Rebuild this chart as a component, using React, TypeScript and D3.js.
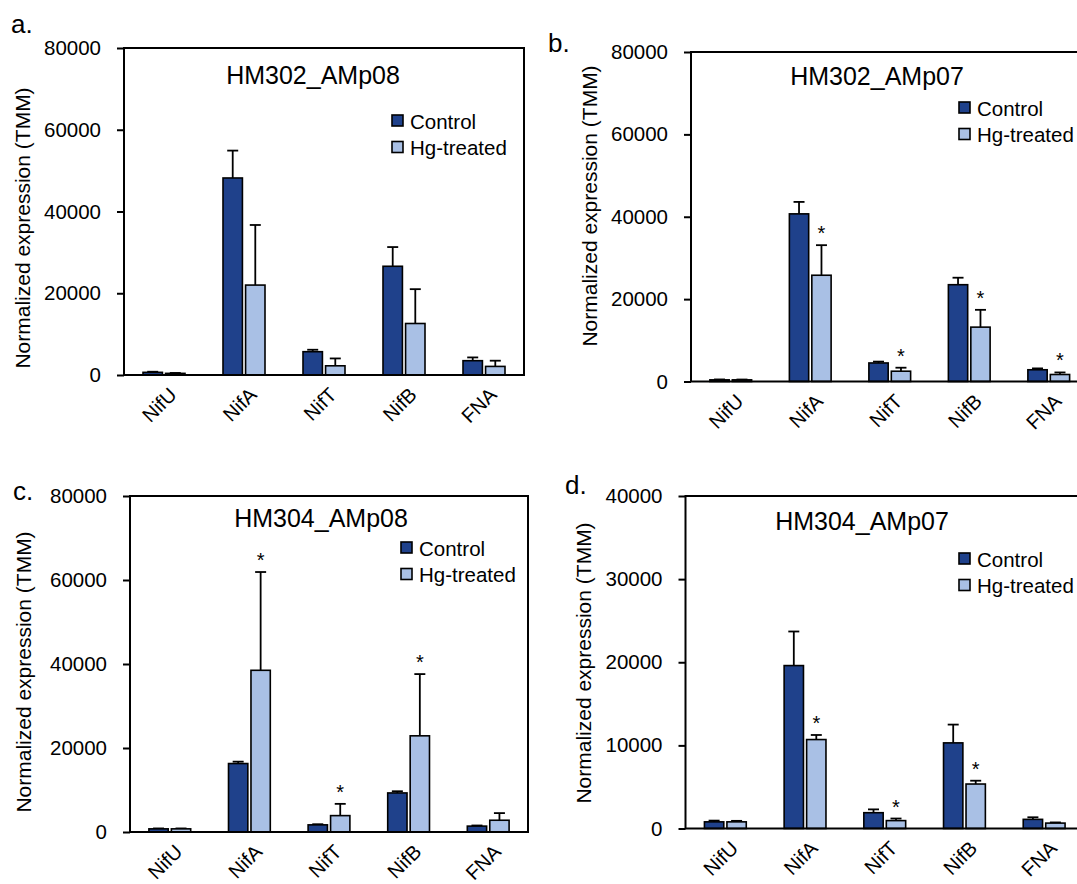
import React, { useEffect, useRef } from 'react';
import * as d3 from 'd3';

const genes = ['NifU', 'NifA', 'NifT', 'NifB', 'FNA'];
const groups = ['Control', 'Hg-treated'];

// a. HM302_AMp08
const aControl = [650, 48200, 5700, 26600, 3500];
const aControlErr = [150, 6700, 480, 4700, 800];
const aHg = [400, 22000, 2250, 12600, 2100];
const aHgErr = [100, 14700, 1800, 8400, 1400];
const aStars = [false, false, false, false, false];

// b. HM302_AMp07
const bControl = [400, 40700, 4500, 23500, 2850];
const bControlErr = [100, 2900, 330, 1700, 330];
const bHg = [400, 25800, 2500, 13200, 1700];
const bHgErr = [80, 7300, 850, 4200, 500];
const bStars = [false, true, true, true, true];

// c. HM304_AMp08
const cControl = [750, 16300, 1700, 9300, 1400];
const cControlErr = [100, 450, 150, 400, 150];
const cHg = [750, 38500, 3900, 22900, 2800];
const cHgErr = [100, 23400, 2800, 14700, 1700];
const cStars = [false, true, true, true, false];

// d. HM304_AMp07
const dControl = [800, 19600, 1900, 10300, 1100];
const dControlErr = [150, 4100, 400, 2200, 250];
const dHg = [800, 10700, 950, 5350, 650];
const dHgErr = [120, 550, 250, 400, 80];
const dStars = [false, true, true, true, false];

const ticks80 = [0, 20000, 40000, 60000, 80000];
const ticks40 = [0, 10000, 20000, 30000, 40000];

const panels = [
  { letter: 'a.', title: 'HM302_AMp08', ymax: 80000, ticks: ticks80, control: aControl, controlErr: aControlErr, hg: aHg, hgErr: aHgErr, stars: aStars },
  { letter: 'b.', title: 'HM302_AMp07', ymax: 80000, ticks: ticks80, control: bControl, controlErr: bControlErr, hg: bHg, hgErr: bHgErr, stars: bStars },
  { letter: 'c.', title: 'HM304_AMp08', ymax: 80000, ticks: ticks80, control: cControl, controlErr: cControlErr, hg: cHg, hgErr: cHgErr, stars: cStars },
  { letter: 'd.', title: 'HM304_AMp07', ymax: 40000, ticks: ticks40, control: dControl, controlErr: dControlErr, hg: dHg, hgErr: dHgErr, stars: dStars },
];

// where each panel sits on the page
const layouts = [
  { left: 124, step: 80, top: 48, bottom: 375, letterX: 11, letterY: 33, titleX: 313, titleY: 84, legX: 392, legY: 121, ylabX: 30, ylabY: 228 },
  { left: 691, step: 79.5, top: 52, bottom: 381.5, letterX: 548, letterY: 52, titleX: 877, titleY: 85, legX: 959, legY: 108, ylabX: 597, ylabY: 206 },
  { left: 130, step: 79.6, top: 496, bottom: 832, letterX: 13, letterY: 500, titleX: 321, titleY: 527, legX: 401, legY: 548, ylabX: 31, ylabY: 672 },
  { left: 685.5, step: 79.7, top: 496, bottom: 828.5, letterX: 565, letterY: 494, titleX: 862, titleY: 530, legX: 959, legY: 559, ylabX: 591, ylabY: 663 },
];

const colors = { Control: '#1f418b', 'Hg-treated': '#a9c0e5' };
const font = '"Liberation Sans", Arial, Helvetica, sans-serif';

function drawPanel(svg, p, L) {
  const g = svg.append('g').style('font-family', font);
  const right = L.left + L.step * 5;

  const x0 = d3.scaleBand().domain(genes).range([L.left, right]).paddingInner(0.475).paddingOuter(0.2375);
  const x1 = d3.scaleBand().domain(groups).range([0, x0.bandwidth()]).paddingInner(0.14);
  const y = d3.scaleLinear().domain([0, p.ymax]).range([L.bottom, L.top]);

  const rows = genes.flatMap((gene, i) => [
    { gene, group: 'Control', v: p.control[i], e: p.controlErr[i], star: false },
    { gene, group: 'Hg-treated', v: p.hg[i], e: p.hgErr[i], star: p.stars[i] },
  ]);

  // y axis ticks + labels
  const axis = g.append('g')
    .attr('transform', `translate(${L.left},0)`)
    .call(d3.axisLeft(y).tickValues(p.ticks).tickSize(7).tickPadding(16).tickFormat(d3.format('d')));
  axis.select('.domain').remove();
  axis.selectAll('line').attr('stroke', '#000').attr('stroke-width', 2);
  axis.selectAll('text').attr('font-size', 20.5).attr('fill', '#000').style('font-family', font);

  // error bars (upper only)
  const eb = g.selectAll('.eb').data(rows).enter().append('g').attr('class', 'eb');
  eb.append('line')
    .attr('x1', (d) => x0(d.gene) + x1(d.group) + x1.bandwidth() / 2)
    .attr('x2', (d) => x0(d.gene) + x1(d.group) + x1.bandwidth() / 2)
    .attr('y1', (d) => y(d.v))
    .attr('y2', (d) => y(d.v + d.e))
    .attr('stroke', '#000').attr('stroke-width', 1.8);
  eb.append('line')
    .attr('x1', (d) => x0(d.gene) + x1(d.group) + x1.bandwidth() / 2 - 5.5)
    .attr('x2', (d) => x0(d.gene) + x1(d.group) + x1.bandwidth() / 2 + 5.5)
    .attr('y1', (d) => y(d.v + d.e))
    .attr('y2', (d) => y(d.v + d.e))
    .attr('stroke', '#000').attr('stroke-width', 1.8);

  // bars
  g.selectAll('.bar').data(rows).enter().append('rect')
    .attr('class', 'bar')
    .attr('x', (d) => x0(d.gene) + x1(d.group))
    .attr('y', (d) => y(d.v))
    .attr('width', x1.bandwidth())
    .attr('height', (d) => y(0) - y(d.v))
    .attr('fill', (d) => colors[d.group])
    .attr('stroke', '#000').attr('stroke-width', 1.6);

  // significance stars
  g.selectAll('.star').data(rows.filter((d) => d.star)).enter().append('text')
    .attr('x', (d) => x0(d.gene) + x1(d.group) + x1.bandwidth() / 2)
    .attr('y', (d) => y(d.v + d.e) - 5)
    .attr('text-anchor', 'middle')
    .attr('font-size', 20)
    .text('*');

  // frame
  g.append('rect')
    .attr('x', L.left).attr('y', L.top)
    .attr('width', right - L.left).attr('height', L.bottom - L.top)
    .attr('fill', 'none').attr('stroke', '#000').attr('stroke-width', 2);

  // category labels
  g.selectAll('.cat').data(genes).enter().append('text')
    .attr('transform', (d) => `translate(${x0(d) + x0.bandwidth() / 2 + 14},${L.bottom + 21}) rotate(-45)`)
    .attr('text-anchor', 'end')
    .attr('font-size', 20)
    .text((d) => d);

  g.append('text').attr('x', L.titleX).attr('y', L.titleY)
    .attr('text-anchor', 'middle').attr('font-size', 25).text(p.title);

  g.append('text').attr('x', L.letterX).attr('y', L.letterY)
    .attr('font-size', 26).text(p.letter);

  g.append('text')
    .attr('transform', `translate(${L.ylabX},${L.ylabY}) rotate(-90)`)
    .attr('text-anchor', 'middle').attr('font-size', 21)
    .text('Normalized expression (TMM)');

  // legend
  const leg = g.selectAll('.leg').data(groups).enter().append('g')
    .attr('transform', (d, i) => `translate(${L.legX},${L.legY + i * 26.5})`);
  leg.append('rect').attr('x', 0).attr('y', -6).attr('width', 11).attr('height', 11)
    .attr('fill', (d) => colors[d]).attr('stroke', '#000').attr('stroke-width', 1.6);
  leg.append('text').attr('x', 18).attr('y', 7.5).attr('font-size', 20.5).text((d) => d);
}

export default function App() {
  const ref = useRef(null);

  useEffect(() => {
    const svg = d3.select(ref.current);
    svg.selectAll('*').remove();
    panels.forEach((p, i) => drawPanel(svg, p, layouts[i]));
  }, []);

  return (
    <svg
      ref={ref}
      width={1077}
      height={884}
      style={{ position: 'absolute', left: 0, top: 0, background: '#fff' }}
    />
  );
}
